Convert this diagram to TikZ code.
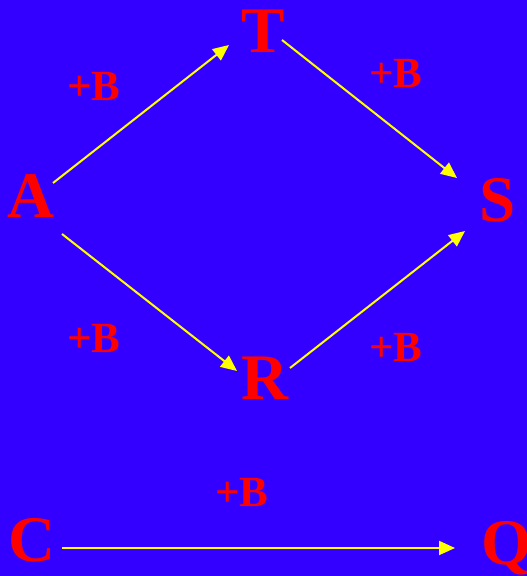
\documentclass[tikz,border=0pt]{standalone}
\usepackage{fontspec}
\setmainfont{Liberation Serif}
\usetikzlibrary{arrows.meta}
\definecolor{bgblue}{HTML}{3300FF}
\definecolor{txtred}{HTML}{FF0000}
\definecolor{arryellow}{HTML}{FFFF00}
\tikzset{
  letter/.style={anchor=base, inner sep=0pt, text=txtred, font=\fontsize{65}{70}\selectfont\bfseries},
  plusb/.style={anchor=base, inner sep=0pt, text=txtred, font=\fontsize{43}{47}\selectfont\bfseries},
  arr/.style={draw=arryellow, line width=2pt, -{Triangle[length=16pt,width=14pt]}}
}
\begin{document}
\begin{tikzpicture}[x=1pt,y=1pt]
      \fill[bgblue] (0,0) rectangle (527,576);
      \useasboundingbox (0,0) rectangle (527,576);
      % the letters
      \node[letter] (T) at (263,523) {T};
      \node[letter] (A) at (31,358) {A};
      \node[letter] (S) at (498,354) {S};
      \node[letter] (R) at (265,176) {R};
      \node[letter] (C) at (32,14) {C};
      \node[letter] (Q) at (507,11) {Q};
      % the +B labels
      \node[plusb] (bAT) at (94,475) {+B};
      \node[plusb] (bTS) at (396,488) {+B};
      \node[plusb] (bAR) at (94,223) {+B};
      \node[plusb] (bRS) at (396,214) {+B};
      \node[plusb] (bCQ) at (242,69) {+B};
      % arrows
      \draw[arr] ([shift={(22,35)}]A.base) -- ([shift={(-34,8)}]T.base);
      \draw[arr] ([shift={(19,13)}]T.base) -- ([shift={(-41,44)}]S.base);
      \draw[arr] ([shift={(31,-16)}]A.base) -- ([shift={(-28,29)}]R.base);
      \draw[arr] ([shift={(25,32)}]R.base) -- ([shift={(-33,-9)}]S.base);
      \draw[arr] ([shift={(30,14)}]C.base) -- ([shift={(-52,17)}]Q.base);
\end{tikzpicture}
\end{document}
